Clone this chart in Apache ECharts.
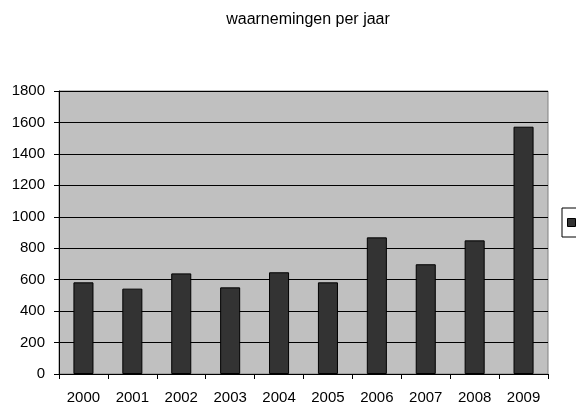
<!DOCTYPE html>
<html>
<head>
<meta charset="utf-8">
<script src="https://cdn.jsdelivr.net/npm/echarts@6/dist/echarts.min.js"></script>
<style>
  html, body { margin: 0; padding: 0; background: #fff; }
  #chart { width: 576px; height: 417px; }
</style>
</head>
<body>
<div id="chart"></div>
<script>
// jaren en aantallen
const years = ['2000', '2001', '2002', '2003', '2004', '2005', '2006', '2007', '2008', '2009']
const counts = [583, 543, 640, 551, 647, 583, 869, 698, 850, 1573]
const yTicks = { min: 0, max: 1800, step: 200 }

const chart = echarts.init(document.getElementById('chart'), null, { renderer: 'canvas' })

const option = {
  animation: false,
  title: {
    text: 'waarnemingen per jaar',
    left: 303,
    textAlign: 'center',
    top: 7,
    textStyle: { fontFamily: 'Liberation Sans', fontSize: 16, fontWeight: 'normal', color: '#000' }
  },
  legend: {
    left: 562,
    top: 208,
    padding: [9, 20, 9, 5],
    borderColor: '#000',
    borderWidth: 1,
    itemWidth: 8,
    itemHeight: 8,
    icon: 'rect',
    textStyle: { fontSize: 11, color: '#000' },
    data: [{ name: 'aantal', itemStyle: { color: '#333', borderColor: '#000', borderWidth: 1 } }]
  },
  grid: {
    left: 59,
    top: 91,
    width: 489,
    height: 283,
    show: true,
    backgroundColor: '#c0c0c0',
    borderColor: '#808080',
    borderWidth: 1
  },
  xAxis: {
    type: 'category',
    data: years,
    boundaryGap: true,
    axisLine: { lineStyle: { color: '#000', width: 1 } },
    axisTick: { show: true, length: 5, lineStyle: { color: '#000' } },
    axisLabel: { color: '#000', fontFamily: 'Liberation Sans', fontSize: 15, margin: 16 }
  },
  yAxis: {
    type: 'value',
    min: yTicks.min,
    max: yTicks.max,
    interval: yTicks.step,
    axisLine: { show: true, lineStyle: { color: '#000', width: 1 } },
    axisTick: { show: true, length: 5, lineStyle: { color: '#000' } },
    axisLabel: {
      color: '#000', fontFamily: 'Liberation Sans', fontSize: 15, margin: 14,
      formatter: v => String(v)
    },
    splitLine: { show: true, lineStyle: { color: '#000', width: 1 } }
  },
  series: [
    {
      name: 'aantal',
      type: 'bar',
      data: counts,
      barWidth: '41%',
      itemStyle: { color: '#333', borderColor: '#000', borderWidth: 1 }
    }
  ]
}

chart.setOption(option)
</script>
</body>
</html>
